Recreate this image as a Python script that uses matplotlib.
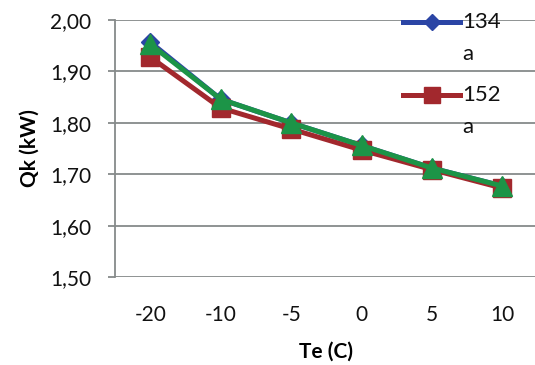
import matplotlib
matplotlib.use("Agg")
import matplotlib.pyplot as plt
from matplotlib.lines import Line2D
from matplotlib.ticker import FuncFormatter

plt.rcParams['font.family'] = ['Lato', 'DejaVu Sans']

# evaporator temperature categories and condenser capacity per refrigerant
te_labels = ['-20', '-10', '-5', '0', '5', '10']
qk_134a = [1.957, 1.846, 1.800, 1.756, 1.712, 1.677]
qk_152a = [1.928, 1.829, 1.788, 1.747, 1.709, 1.673]
qk_third = [1.953, 1.846, 1.800, 1.756, 1.712, 1.677]
legend_labels = [('134', 'a'), ('152', 'a')]

blue = '#2B45A5'
red = '#A2282D'
green = '#1C9447'
grid_col = '#868A8A'
txt_col = '#111111'

fig = plt.figure(figsize=(5.35, 3.65), dpi=100)
ax = fig.add_axes([0.215, 0.241, 0.79, 0.704])

x = range(len(te_labels))
ax.plot(x, qk_134a, color=blue, lw=3.6, marker='D', ms=9,
        mfc=blue, mec=blue, zorder=3)
ax.plot(x, qk_152a, color=red, lw=3.6, marker='s', ms=13,
        mfc=red, mec=red, zorder=4)
ax.plot(x, qk_third, color=green, lw=3.6, marker='^', ms=14,
        mfc=green, mec=green, zorder=5)

ax.set_xlim(-0.5, len(te_labels) - 0.5)
ax.set_ylim(1.5, 2.0)
ax.set_yticks([1.5, 1.6, 1.7, 1.8, 1.9, 2.0])
ax.yaxis.set_major_formatter(FuncFormatter(lambda v, p: f'{v:.2f}'.replace('.', ',')))
ax.set_xticks(list(x))
ax.set_xticklabels(te_labels)

ax.grid(axis='y', color=grid_col, lw=1.3, zorder=0)
for s in ['top', 'right', 'bottom']:
    ax.spines[s].set_visible(False)
ax.spines['left'].set_color(grid_col)
ax.spines['left'].set_linewidth(1.3)
ax.tick_params(axis='y', length=5, width=1.3, color=grid_col, pad=12,
               labelsize=15, labelcolor=txt_col)
ax.tick_params(axis='x', length=0, pad=20, labelsize=15, labelcolor=txt_col)

ax.set_xlabel('Te (C)', fontsize=15, fontweight='bold', labelpad=12)
ax.set_ylabel('Qk (kW)', fontsize=15, fontweight='bold', labelpad=8)

# legend entries with wrapped labels, handle level with the first line
W, H = 535.0, 365.0
entries = [(blue, 'D', 8, 22), (red, 's', 12, 95)]
for (col, mk, ms, ypx), (l1, l2) in zip(entries, legend_labels):
    yf = 1 - ypx / H
    fig.add_artist(Line2D([403 / W, 460 / W], [yf, yf], color=col, lw=3.6,
                          transform=fig.transFigure, zorder=6))
    fig.add_artist(Line2D([431.5 / W], [yf], color=col, marker=mk, ms=ms,
                          mfc=col, mec=col, transform=fig.transFigure, zorder=7))
    fig.text(462 / W, yf, l1, fontsize=16, color=txt_col, va='center', ha='left')
    fig.text(462 / W, 1 - (ypx + 32) / H, l2, fontsize=16, color=txt_col,
             va='center', ha='left')

fig.savefig('out.png', dpi=100)
